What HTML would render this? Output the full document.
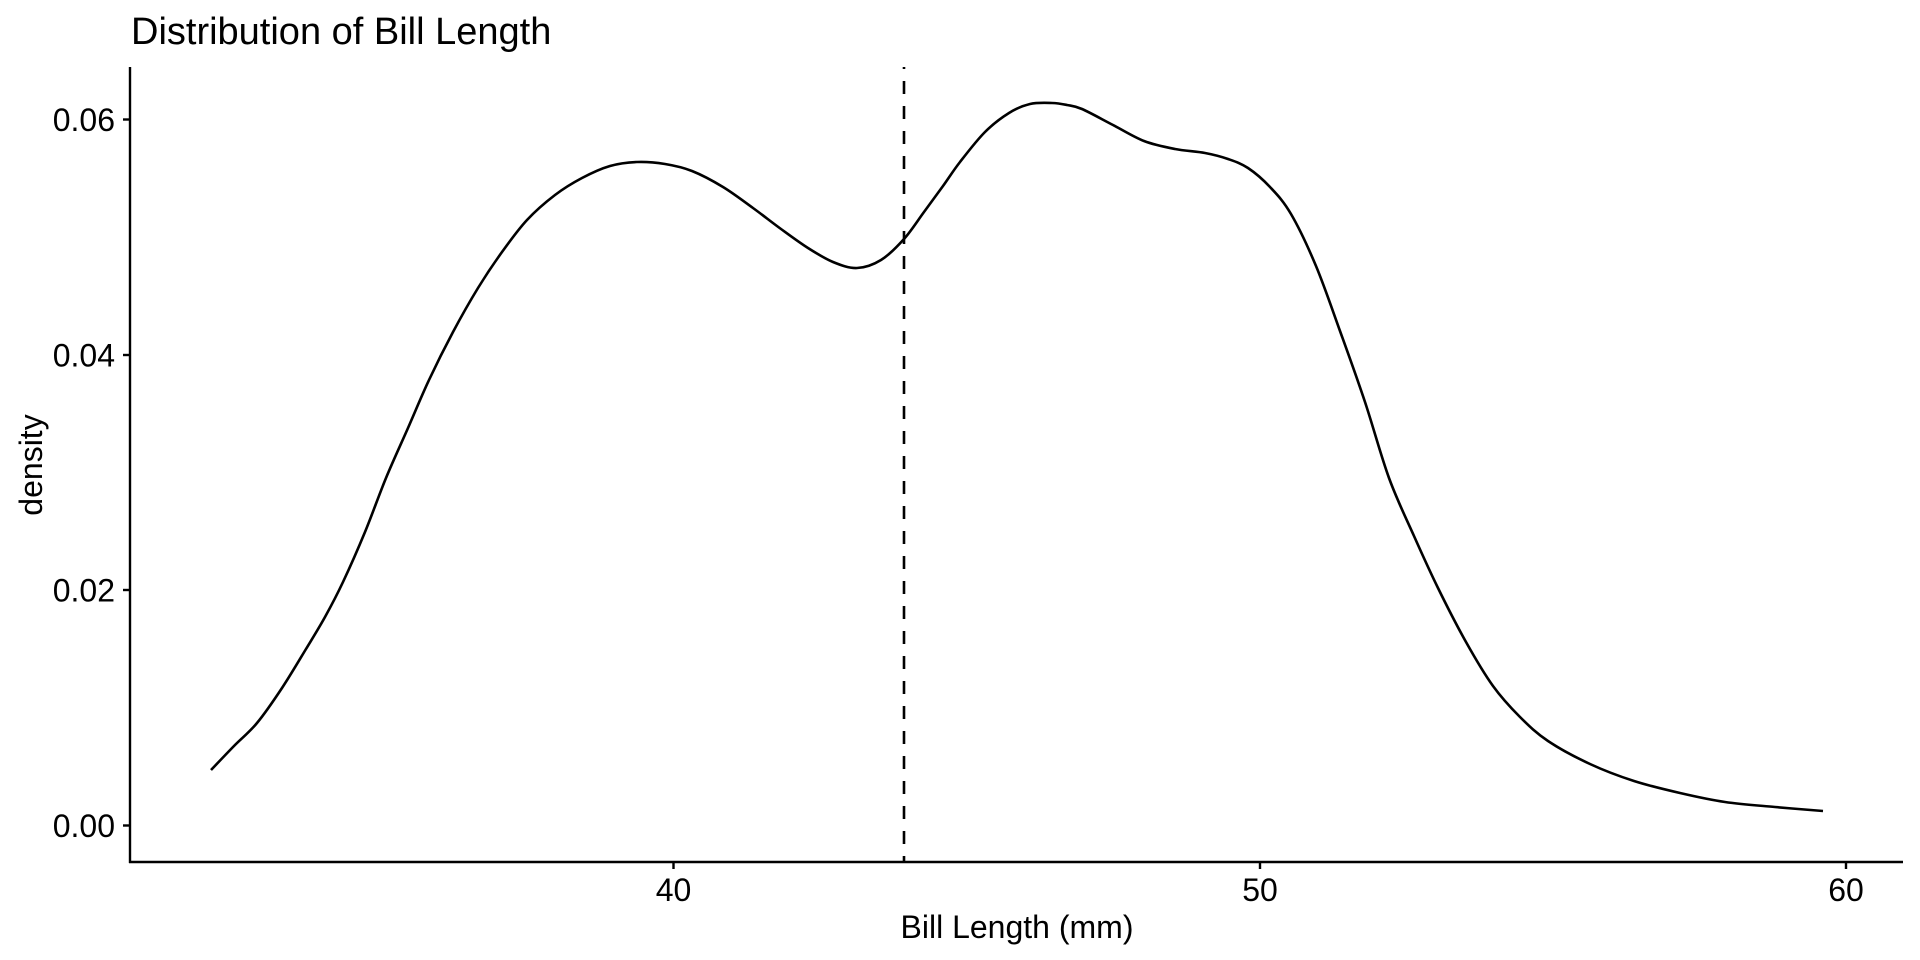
<!DOCTYPE html>
<html><head><meta charset="utf-8"><style>
html,body{margin:0;padding:0;background:#fff;}
svg{display:block;font-family:"Liberation Sans",Arial,sans-serif;}
</style></head><body>
<svg width="1920" height="960" viewBox="0 0 1920 960">
<text x="131" y="44" font-size="38" fill="#000">Distribution of Bill Length</text>
<g stroke="#000" stroke-width="2.4" fill="none">
<line x1="130" y1="67" x2="130" y2="863"/>
<line x1="129" y1="862" x2="1903" y2="862"/>
<line x1="123" y1="825.5" x2="130" y2="825.5"/>
<line x1="123" y1="590" x2="130" y2="590"/>
<line x1="123" y1="355" x2="130" y2="355"/>
<line x1="123" y1="119.5" x2="130" y2="119.5"/>
<line x1="673.5" y1="862" x2="673.5" y2="869"/>
<line x1="1260" y1="862" x2="1260" y2="869"/>
<line x1="1846" y1="862" x2="1846" y2="869"/>
<line x1="904" y1="67" x2="904" y2="862" stroke-width="2.6" stroke-dasharray="13 12" stroke-dashoffset="11"/>
<path id="curve" stroke-width="2.6" stroke-linejoin="round" d=""/>
</g>
<g font-size="32" fill="#000" text-anchor="end">
<text x="115" y="837">0.00</text>
<text x="115" y="601.5">0.02</text>
<text x="115" y="366.5">0.04</text>
<text x="115" y="131">0.06</text>
</g>
<g font-size="32" fill="#000" text-anchor="middle">
<text x="673.5" y="901">40</text>
<text x="1260" y="901">50</text>
<text x="1846" y="901">60</text>
<text x="1017" y="938">Bill Length (mm)</text>
</g>
<text x="0" y="0" font-size="32" fill="#000" text-anchor="middle" transform="translate(42,465) rotate(-90)">density</text>
</svg>
<script>
var p=[[211,770],[234,746],[257,723],[282,688],[306,649],[325,617],[343,582],[365,532],[386,478],[408,428],[429,380],[453,332],[478,288],[502,252],[527,220],[555,195],[582,178],[610,166],[637,162],[665,164],[692,171],[723,187],[753,208],[781,229],[808,248],[833,262],[857,268],[881,260],[904,239],[924,212],[943,186],[960,162],[985,132],[1009,113],[1030,104],[1052,103],[1067,105],[1082,109],[1113,125],[1144,141],[1175,149],[1205,153],[1228,159],[1248,168],[1270,187],[1291,214],[1316,266],[1340,331],[1365,402],[1389,478],[1414,536],[1438,588],[1466,642],[1493,686],[1520,717],[1548,741],[1590,764],[1634,781],[1680,793],[1725,802],[1775,807],[1823,811]];
var d="M"+p[0][0]+","+p[0][1];
for(var i=0;i<p.length-1;i++){var a=p[Math.max(i-1,0)],b=p[i],c=p[i+1],e=p[Math.min(i+2,p.length-1)];
d+=" C"+(b[0]+(c[0]-a[0])/6)+","+(b[1]+(c[1]-a[1])/6)+" "+(c[0]-(e[0]-b[0])/6)+","+(c[1]-(e[1]-b[1])/6)+" "+c[0]+","+c[1];}
document.getElementById("curve").setAttribute("d",d);
</script>
</body></html>
